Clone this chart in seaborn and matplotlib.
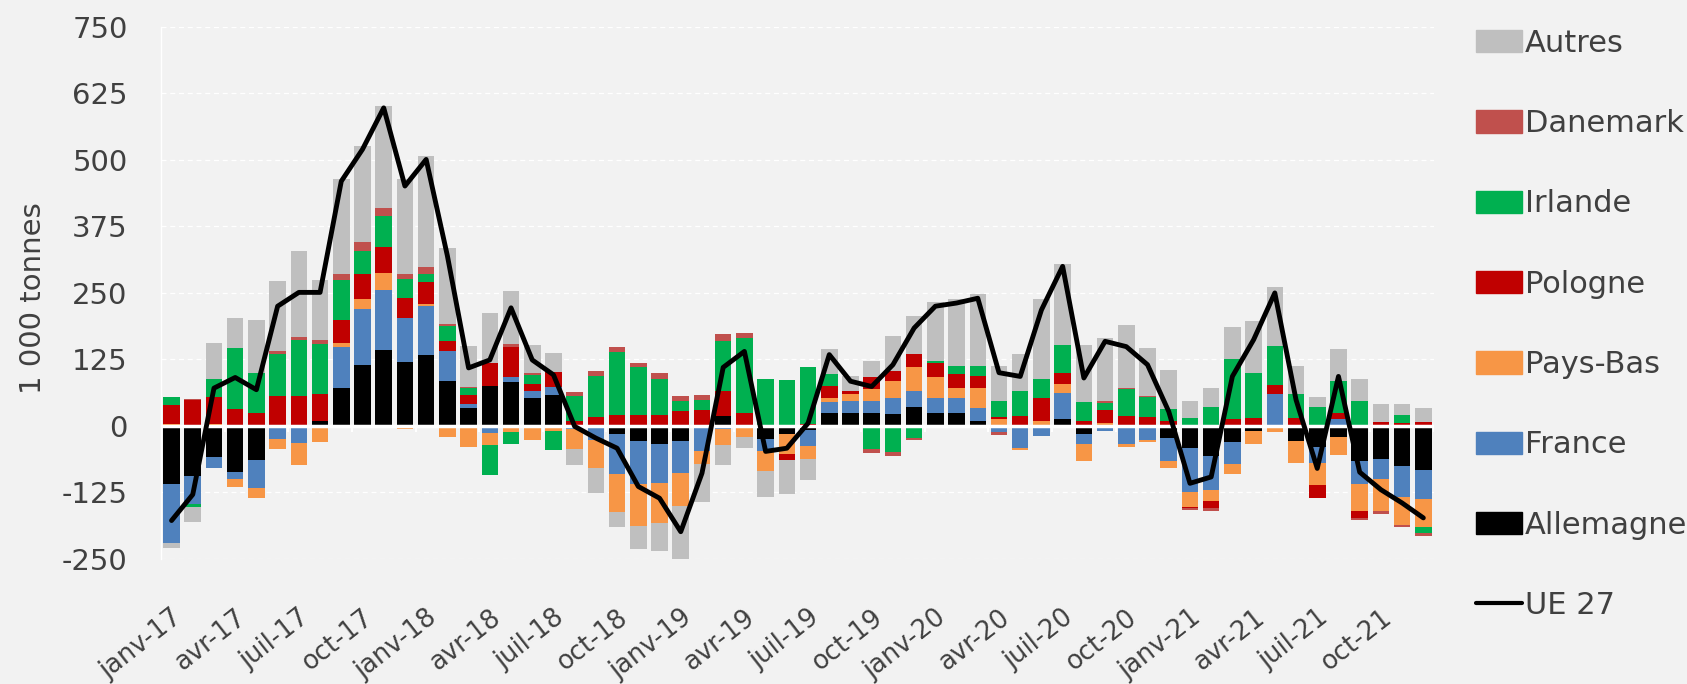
import matplotlib
matplotlib.use('Agg')
import matplotlib.pyplot as plt
import matplotlib.patches as mpatches
import matplotlib.lines as mlines
import numpy as np
import pandas as pd
import seaborn as sns

# Mois (janv-17 -> déc-21)
mois_abr = ['janv', 'févr', 'mars', 'avr', 'mai', 'juin',
            'juil', 'août', 'sept', 'oct', 'nov', 'déc']
annees = ['17', '18', '19', '20', '21']
mois = [f'{m}-{a}' for a in annees for m in mois_abr]

# Soldes mensuels par pays, en 1 000 tonnes
allemagne = [-110, -94, -58, -86, -64, 0, 0, 10, 71, 115, 143, 121,
             134, 84, 33, 75, 82, 53, 58, 0, 0, -15, -28, -35,
             -28, 0, 19, 0, -25, -15, -8, 25, 25, 25, 22, 35,
             25, 25, 9, 0, 0, 0, 12, -16, 0, 0, 0, -22,
             -42, -57, -30, -9, 0, -28, -39, -20, -66, -62, -75, -83]
france = [-110, -53, -22, -13, -53, -25, -33, 0, 78, 104, 113, 82,
          91, 57, 9, -14, 9, 13, 16, -5, -27, -75, -82, -72,
          -60, -47, -5, 0, -22, 0, -30, 19, 22, 22, 31, 31,
          28, 28, 25, -12, -42, -19, 50, -19, -9, -35, -27, -44,
          -82, -63, -41, 0, 60, 0, -31, 12, -44, -37, -58, -54]
pays_bas = [3, 0, 4, -16, -19, -19, -40, -30, 6, 19, 31, -6,
            4, -20, -40, -22, -12, -27, -10, -38, -53, -72, -78, -75,
            -63, -25, -31, -20, -37, -38, -25, 9, 13, 22, 31, 44,
            38, 19, 38, 13, -4, 9, 16, -31, 5, -4, -4, -13,
            -28, -22, -19, -25, -12, -41, -41, -35, -50, -62, -53, -53]
pologne = [37, 48, 50, 31, 25, 57, 57, 50, 44, 47, 50, 38,
           41, 19, 16, 44, 57, 13, 28, 9, 16, 20, 20, 20,
           28, 30, 47, 25, 0, -12, 3, 22, 6, 22, 19, 25,
           28, 25, 22, 3, 19, 44, 22, 10, 25, 19, 16, 9,
           -3, -13, 12, 15, 16, 15, -25, 12, -13, 8, 5, 8]
irlande = [14, -6, 35, 116, 75, 78, 104, 94, 75, 44, 57, 35,
           16, 28, 13, -57, -22, 16, -35, 47, 78, 119, 91, 69,
           19, 19, 94, 141, 88, 86, 108, 22, 0, -44, -50, -22,
           3, 16, 19, 31, 47, 35, 53, 35, 13, 50, 38, 22,
           15, 36, 113, 85, 75, 44, 36, 60, 47, 0, 16, -12]
danemark = [0, 3, 0, 0, 0, 5, 7, 7, 12, 16, 15, 10,
            12, 4, 3, 0, 6, 4, 0, 7, 10, 9, 7, 10,
            9, 9, 12, 8, 0, 0, 0, -4, -4, -7, -6, -5,
            -4, -4, -4, -5, 0, 0, 0, 0, 4, 3, 3, 0,
            -3, -5, 0, 0, 0, 0, 0, 0, -4, -4, -4, -5]
autres = [-10, -28, 66, 55, 100, 133, 160, 114, 178, 182, 192, 178,
          210, 143, 77, 94, 100, 53, 35, -31, -47, -28, -44, -53,
          -104, -72, -38, -22, -50, -63, -38, 47, 28, 31, 66, 72,
          110, 126, 135, 66, 69, 151, 151, 107, 119, 118, 90, 75,
          31, 35, 60, 97, 110, 53, 19, 60, 41, 33, 20, 25]
ue27 = [-178, -129, 71, 91, 68, 225, 251, 251, 460, 520, 598, 451,
        501, 320, 109, 124, 222, 124, 96, -1, -23, -42, -114, -136,
        -199, -89, 110, 140, -48, -42, 5, 134, 84, 74, 115, 184,
        225, 231, 240, 100, 93, 218, 300, 90, 159, 149, 115, 27,
        -108, -96, 93, 162, 250, 49, -80, 93, -87, -120, -145, -173]

pays = ['Allemagne', 'France', 'Pays-Bas', 'Pologne', 'Irlande', 'Danemark', 'Autres']
couleurs = {'Allemagne': '#000000', 'France': '#4F81BD', 'Pays-Bas': '#F79646',
            'Pologne': '#C00000', 'Irlande': '#00B050', 'Danemark': '#C0504D',
            'Autres': '#BFBFBF'}

df = pd.DataFrame({'Allemagne': allemagne, 'France': france, 'Pays-Bas': pays_bas,
                   'Pologne': pologne, 'Irlande': irlande, 'Danemark': danemark,
                   'Autres': autres, 'UE 27': ue27}, index=mois)

sns.set_theme(style='white')
plt.rcParams['font.family'] = ['DejaVu Sans']
plt.rcParams['axes.unicode_minus'] = False
texte = '#404040'
fond = '#F2F2F2'

fig = plt.figure(figsize=(16.87, 6.84), dpi=100, facecolor=fond)
ax = fig.add_axes([0.0954, 0.183, 0.7546, 0.7775], facecolor=fond)

x = np.arange(len(mois))
base_pos = np.zeros(len(mois))
base_neg = np.zeros(len(mois))
for p in pays:
    v = df[p].to_numpy(dtype=float)
    pos = np.clip(v, 0, None)
    neg = np.clip(v, None, 0)
    ax.bar(x, pos, bottom=base_pos, width=0.78, color=couleurs[p], zorder=2, linewidth=0)
    ax.bar(x, neg, bottom=base_neg, width=0.78, color=couleurs[p], zorder=2, linewidth=0)
    base_pos += pos
    base_neg += neg

# axe horizontal a zero + graduations
ax.axhline(0, color='white', lw=2.5, zorder=3)
ax.vlines(np.arange(-0.5, 60, 3), -12, 0, color='white', lw=1.5, zorder=3)

sns.lineplot(x=x, y=df['UE 27'].to_numpy(), color='black', lw=3.5, ax=ax, zorder=4)

ax.set_xlim(-0.5, 59.5)
ax.set_ylim(-250, 750)
ax.set_yticks(np.arange(-250, 751, 125))
ax.yaxis.grid(True, color='white', linestyle=(0, (4, 3)), lw=0.9, zorder=0)
ax.set_axisbelow(True)
for s in ['top', 'right', 'bottom']:
    ax.spines[s].set_visible(False)
ax.spines['left'].set_color('white')
ax.spines['left'].set_linewidth(1)

ax.set_xticks(x[::3])
ax.set_xticklabels(mois[::3], rotation=38, ha='right', rotation_mode='anchor',
                   fontsize=18.5, color=texte)
ax.tick_params(axis='x', length=0, pad=33)
ax.tick_params(axis='y', length=0, pad=24, labelsize=21, labelcolor=texte)
ax.set_ylabel('1 000 tonnes', fontsize=21, color=texte)
ax.yaxis.set_label_coords(-0.0896, 0.49)

handles = [mpatches.Patch(color=couleurs[p], label=p) for p in pays[::-1]]
handles.append(mlines.Line2D([], [], color='black', lw=3, label='UE 27'))
leg = fig.legend(handles=handles, loc='upper left', bbox_to_anchor=(0.875, 0.958),
                 frameon=False, fontsize=22, labelspacing=1.68, handlelength=1.5,
                 handleheight=0.75, handletextpad=0.1, borderaxespad=0, borderpad=0)
for t in leg.get_texts():
    t.set_color(texte)

fig.savefig('out.png', dpi=100, facecolor=fond)
